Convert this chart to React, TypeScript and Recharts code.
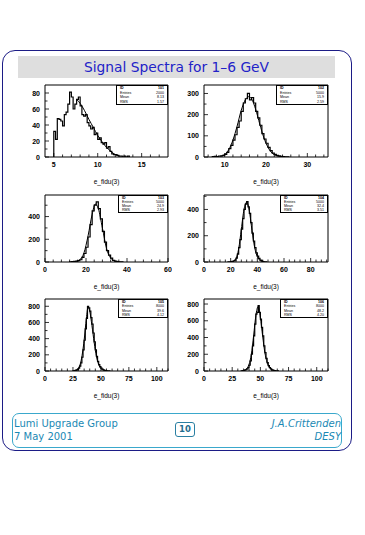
import React from 'react';
import { LineChart, Line, XAxis, YAxis, ReferenceArea } from 'recharts';

const FONT = '"DejaVu Sans", sans-serif';
const AXIS_FONT = '"Liberation Sans", Arial, sans-serif';

// histogram counts, one value per bin (bin lower edge = lo + i * width)
const h1Counts = [32, 22, 48, 47, 45, 39, 53, 56, 66, 81, 75, 60, 66, 72, 75, 64, 53, 51, 53, 43, 39, 35, 37, 28, 30, 22, 24, 18, 16, 18, 11, 13, 7, 4, 3, 3, 2, 1, 1, 0, 1, 0, 1];
const h2Counts = [2, 3, 2, 4, 5, 8, 12, 22, 40, 55, 80, 105, 140, 170, 215, 255, 275, 300, 270, 280, 255, 215, 185, 150, 110, 85, 65, 45, 30, 18, 12, 8, 5, 3, 2, 1, 1];
const h3Counts = [2, 3, 5, 8, 12, 20, 40, 75, 130, 220, 330, 450, 500, 530, 470, 380, 270, 175, 100, 60, 35, 15, 8, 4, 2, 1];
const h4Counts = [1, 2, 3, 5, 8, 15, 30, 60, 110, 170, 250, 330, 400, 440, 460, 420, 370, 300, 220, 160, 110, 70, 45, 28, 15, 8, 4, 2, 1];
const h5Counts = [3, 5, 8, 12, 20, 35, 60, 100, 170, 260, 380, 520, 650, 800, 780, 740, 660, 580, 470, 360, 260, 180, 120, 80, 55, 35, 22, 14, 8, 5, 3, 2, 1];
const h6Counts = [2, 4, 6, 10, 15, 25, 40, 70, 120, 200, 300, 420, 560, 680, 700, 780, 700, 620, 520, 420, 300, 220, 150, 100, 65, 40, 25, 15, 10, 6, 3, 2, 1];

// fitted curves
const f1 = [{ x: 7.6, y: 72 }, { x: 8.0, y: 67 }, { x: 8.5, y: 58 }, { x: 9.0, y: 47 }, { x: 9.5, y: 37 }, { x: 10.0, y: 27 }, { x: 10.5, y: 19 }, { x: 11.0, y: 12 }, { x: 11.5, y: 7 }, { x: 12.0, y: 3 }, { x: 12.5, y: 1 }];
const f2 = [{ x: 9, y: 3 }, { x: 10, y: 12 }, { x: 11, y: 35 }, { x: 12, y: 80 }, { x: 13, y: 145 }, { x: 14, y: 220 }, { x: 15, y: 270 }, { x: 15.8, y: 285 }, { x: 16.5, y: 275 }, { x: 17.5, y: 225 }, { x: 18.5, y: 155 }, { x: 19.5, y: 90 }, { x: 20.5, y: 45 }, { x: 21.5, y: 18 }, { x: 22.5, y: 6 }, { x: 23.5, y: 2 }];
const f3 = [{ x: 15, y: 5 }, { x: 17, y: 20 }, { x: 19, y: 80 }, { x: 21, y: 230 }, { x: 23, y: 420 }, { x: 24.5, y: 510 }, { x: 26, y: 470 }, { x: 28, y: 300 }, { x: 30, y: 120 }, { x: 32, y: 35 }, { x: 34, y: 8 }, { x: 36, y: 1 }];
const f4 = [{ x: 22, y: 5 }, { x: 24, y: 25 }, { x: 26, y: 100 }, { x: 28, y: 250 }, { x: 30, y: 400 }, { x: 32, y: 455 }, { x: 34, y: 390 }, { x: 36, y: 240 }, { x: 38, y: 110 }, { x: 40, y: 40 }, { x: 42, y: 12 }, { x: 44, y: 3 }];
const f5 = [{ x: 26, y: 5 }, { x: 29, y: 25 }, { x: 32, y: 110 }, { x: 35, y: 380 }, { x: 37, y: 650 }, { x: 38.5, y: 790 }, { x: 40, y: 740 }, { x: 42, y: 560 }, { x: 44, y: 350 }, { x: 46, y: 180 }, { x: 48, y: 80 }, { x: 50, y: 30 }, { x: 53, y: 8 }, { x: 56, y: 1 }];
const f6 = [{ x: 34, y: 3 }, { x: 37, y: 20 }, { x: 40, y: 80 }, { x: 42, y: 200 }, { x: 44, y: 420 }, { x: 46, y: 660 }, { x: 48, y: 770 }, { x: 50, y: 640 }, { x: 52, y: 420 }, { x: 54, y: 220 }, { x: 56, y: 100 }, { x: 58, y: 40 }, { x: 61, y: 10 }, { x: 64, y: 2 }];

// tick labels
const x1Major = [5, 10, 15];
const x2Major = [10, 20, 30];
const x3Major = [0, 20, 40, 60];
const x4Major = [0, 20, 40, 60, 80];
const x56Major = [0, 25, 50, 75, 100];
const y1Major = [0, 20, 40, 60, 80];
const y2Major = [0, 100, 200, 300];
const y34Major = [0, 200, 400];
const y56Major = [0, 200, 400, 600, 800];

// stat box rows
const statNames = ['ID', 'Entries', 'Mean', 'RMS'];
const stats1 = ['101', '2000', '8.13', '1.57'];
const stats2 = ['102', '5000', '15.9', '2.59'];
const stats3 = ['103', '5000', '24.9', '2.93'];
const stats4 = ['104', '5000', '32.4', '3.51'];
const stats5 = ['105', '8000', '39.6', '4.12'];
const stats6 = ['106', '8000', '48.2', '4.20'];

const histData = (lo: number, width: number, counts: number[]) => {
  const pts = [{ x: lo, y: 0 }];
  counts.forEach((c, i) => pts.push({ x: lo + i * width, y: c }));
  pts.push({ x: lo + counts.length * width, y: 0 });
  return pts;
};

const range = (a: number, b: number, s: number) => {
  const out: number[] = [];
  for (let v = a; v <= b + 1e-9; v += s) out.push(Math.round(v * 1000) / 1000);
  return out;
};

const panels = [
  { left: 45, top: 85, w: 123, h: 72, xd: [4, 18], yd: [0, 90], xm: x1Major, xs: range(5, 17, 1), ym: y1Major, ys: range(0, 80, 10), hist: histData(5, 0.2, h1Counts), fit: f1, stats: stats1, bw: 52, bh: 20 },
  { left: 204, top: 85, w: 124, h: 72, xd: [5, 35], yd: [0, 340], xm: x2Major, xs: range(6, 34, 2), ym: y2Major, ys: range(0, 300, 50), hist: histData(7, 0.5, h2Counts), fit: f2, stats: stats2, bw: 52, bh: 20 },
  { left: 45, top: 195, w: 123, h: 67, xd: [0, 60], yd: [0, 590], xm: x3Major, xs: range(0, 60, 4), ym: y34Major, ys: range(0, 500, 100), hist: histData(12, 1, h3Counts), fit: f3, stats: stats3, bw: 50, bh: 18 },
  { left: 204, top: 195, w: 124, h: 67, xd: [0, 93], yd: [0, 510], xm: x4Major, xs: range(0, 92, 4), ym: y34Major, ys: range(0, 500, 100), hist: histData(18, 1, h4Counts), fit: f4, stats: stats4, bw: 48, bh: 18 },
  { left: 45, top: 299, w: 123, h: 72, xd: [0, 110], yd: [0, 890], xm: x56Major, xs: range(0, 110, 5), ym: y56Major, ys: range(0, 800, 100), hist: histData(25, 1, h5Counts), fit: f5, stats: stats5, bw: 50, bh: 19 },
  { left: 204, top: 299, w: 124, h: 72, xd: [0, 110], yd: [0, 860], xm: x56Major, xs: range(0, 110, 5), ym: y56Major, ys: range(0, 800, 100), hist: histData(33, 1, h6Counts), fit: f6, stats: stats6, bw: 48, bh: 19 },
];

const makeXTick = (majors: number[]) => (props: any) => {
  const { x, y, payload } = props;
  const major = majors.includes(payload.value);
  return (
    <g>
      <line x1={x} x2={x} y1={y} y2={y - (major ? 4 : 2.5)} stroke="#000" strokeWidth={0.8} />
      {major && (
        <text x={x} y={y + 10} textAnchor="middle" fontSize={7} fontWeight="bold" fontFamily={AXIS_FONT} fill="#000">
          {payload.value}
        </text>
      )}
    </g>
  );
};

const makeYTick = (majors: number[]) => (props: any) => {
  const { x, y, payload } = props;
  const major = majors.includes(payload.value);
  return (
    <g>
      <line x1={x} x2={x + (major ? 4 : 2.5)} y1={y} y2={y} stroke="#000" strokeWidth={0.8} />
      {major && (
        <text x={x - 5} y={y + 2.5} textAnchor="end" fontSize={7} fontWeight="bold" fontFamily={AXIS_FONT} fill="#000">
          {payload.value}
        </text>
      )}
    </g>
  );
};

const Panel = ({ p }: { p: (typeof panels)[number] }) => (
  <>
    <div style={{ position: 'absolute', left: p.left - 30, top: p.top - 4 }}>
      <LineChart width={p.w + 34} height={p.h + 34} margin={{ top: 4, right: 4, left: 0, bottom: 0 }}>
        <XAxis
          type="number"
          dataKey="x"
          domain={p.xd}
          ticks={p.xs}
          interval={0}
          allowDataOverflow
          height={30}
          tickSize={0}
          tickMargin={0}
          axisLine={false}
          tickLine={false}
          tick={makeXTick(p.xm)}
          label={{ value: 'e_fidu(3)', position: 'insideBottom', offset: 3, fontSize: 6.5, fontFamily: AXIS_FONT, fill: '#000' }}
        />
        <YAxis
          type="number"
          dataKey="y"
          domain={p.yd}
          ticks={p.ys}
          interval={0}
          allowDataOverflow
          width={30}
          tickSize={0}
          tickMargin={0}
          axisLine={false}
          tickLine={false}
          tick={makeYTick(p.ym)}
        />
        <ReferenceArea x1={p.xd[0]} x2={p.xd[1]} y1={p.yd[0]} y2={p.yd[1]} fill="none" stroke="#000" strokeWidth={1} ifOverflow="visible" />
        <Line data={p.fit} dataKey="y" type="monotone" stroke="#000" strokeWidth={1} dot={false} isAnimationActive={false} />
        <Line data={p.hist} dataKey="y" type="stepAfter" stroke="#000" strokeWidth={1.2} dot={false} isAnimationActive={false} />
      </LineChart>
    </div>
    <div
      style={{
        position: 'absolute',
        left: p.left + p.w - p.bw,
        top: p.top,
        width: p.bw,
        height: p.bh,
        boxSizing: 'border-box',
        border: '1px solid #000',
        background: '#fff',
        color: '#000',
        fontFamily: AXIS_FONT,
        fontSize: 3.6,
        lineHeight: `${(p.bh - 2) / 4}px`,
        padding: '0 3px',
      }}
    >
      {statNames.map((n, i) => (
        <div key={n} style={{ display: 'flex', justifyContent: 'space-between', fontWeight: i === 0 ? 'bold' : 'normal' }}>
          <span>{n}</span>
          <span>{p.stats[i]}</span>
        </div>
      ))}
    </div>
  </>
);

export default function App() {
  return (
    <div style={{ position: 'absolute', left: 0, top: 0, width: 365, height: 535, background: '#fff', overflow: 'hidden' }}>
      {/* slide frame */}
      <div style={{ position: 'absolute', left: 2, top: 50, width: 350, height: 401, boxSizing: 'border-box', border: '1.5px solid #1c1c86', borderRadius: 13 }} />
      <div
        style={{
          position: 'absolute',
          left: 18,
          top: 56,
          width: 317,
          height: 22,
          background: '#dedede',
          color: '#2222c8',
          fontFamily: FONT,
          fontSize: 13.8,
          lineHeight: '22px',
          textAlign: 'center',
        }}
      >
        Signal Spectra for 1–6 GeV
      </div>

      {panels.map((p, i) => (
        <Panel key={i} p={p} />
      ))}

      {/* footer */}
      <div style={{ position: 'absolute', left: 12, top: 413, width: 330, height: 35, boxSizing: 'border-box', border: '1px solid #3aa8cc', borderRadius: 7 }} />
      <div style={{ position: 'absolute', left: 14, top: 417, fontFamily: FONT, fontSize: 10, color: '#1a88b4', lineHeight: '13px' }}>
        Lumi Upgrade Group
        <br />7 May 2001
      </div>
      <div style={{ position: 'absolute', right: 365 - 341, top: 417, fontFamily: FONT, fontSize: 10, fontStyle: 'italic', color: '#1a88b4', lineHeight: '13px', textAlign: 'right' }}>
        J.A.Crittenden
        <br />DESY
      </div>
      <div
        style={{
          position: 'absolute',
          left: 175,
          top: 422,
          width: 20,
          height: 15,
          boxSizing: 'border-box',
          border: '1px solid #2a7fa2',
          borderRadius: 3,
          fontFamily: FONT,
          fontSize: 8.5,
          fontWeight: 'bold',
          color: '#1f6d8e',
          textAlign: 'center',
          lineHeight: '13px',
        }}
      >
        10
      </div>
    </div>
  );
}
